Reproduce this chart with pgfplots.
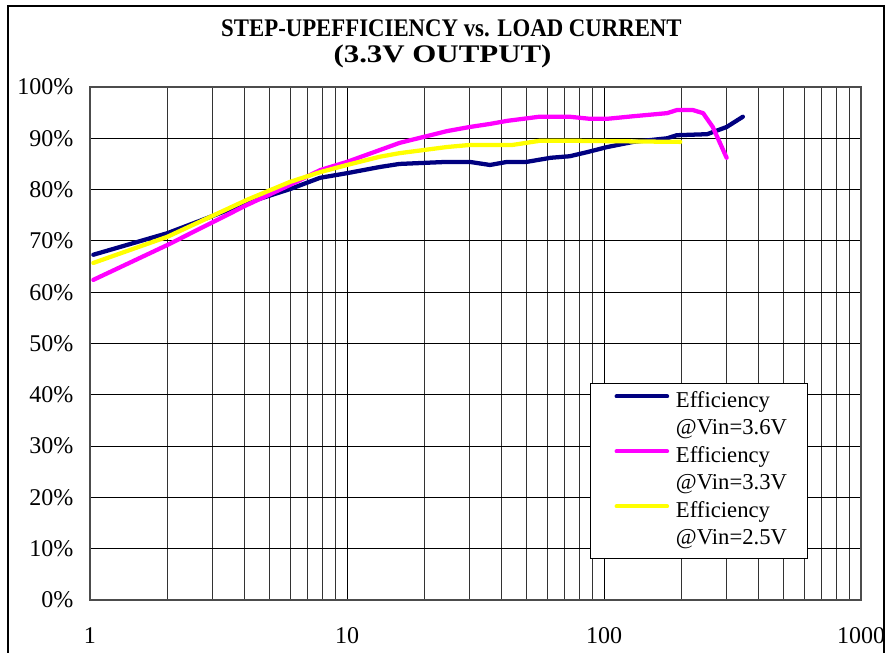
\documentclass[border=0pt]{standalone}
\usepackage{pgfplots}
\pgfplotsset{compat=1.18}
\usepackage{fontspec}
\setmainfont{Liberation Serif}
\usepackage{graphicx}

\definecolor{navyline}{RGB}{0,0,128}
\definecolor{magline}{RGB}{255,0,255}
\definecolor{yelline}{RGB}{255,255,0}

\begin{document}
\begin{tikzpicture}
% page frame: 887x652 px at 0.75pt per px, axis origin at px (90,600)
\path[use as bounding box, clip] (-67.5pt,-39pt) rectangle (597.75pt,450pt);
\draw[black, line width=1.8pt] (-61.5pt,-60pt) rectangle (595.5pt,445.5pt);

\node[font=\bfseries\fontsize{19}{22}\selectfont] at (271.1pt,429pt) {\scalebox{0.9}[1]{STEP-UPEFFICIENCY vs. LOAD CURRENT}};
\node[font=\bfseries\fontsize{19}{22}\selectfont] at (264.4pt,408pt) {\scalebox{1.22}[1]{(3.3V OUTPUT)}};

\begin{axis}[
  at={(0pt,0pt)}, anchor=south west,
  scale only axis, width=578.25pt, height=384.75pt,
  xmode=log, xmin=1, xmax=1000, ymin=0, ymax=100,
  xtick={1,10,100,1000}, xticklabels={1,10,100,1000},
  ytick={0,10,...,100},
  yticklabels={0\%,10\%,20\%,30\%,40\%,50\%,60\%,70\%,80\%,90\%,100\%},
  ticklabel style={font=\fontsize{18}{20}\selectfont},
  yticklabel style={xshift=-9pt},
  xticklabel style={yshift=-17pt},
  xtick style={draw=none},
  ytick style={black, line width=0.6pt},
  tick pos=left, tick align=inside, major tick length=6pt,
  xmajorgrids, xminorgrids, ymajorgrids,
  major grid style={black, line width=0.6pt},
  minor grid style={black!80, line width=0.45pt},
  axis line style={black!70, line width=1.1pt},
  legend cell align=left,
  legend style={at={(0.6485,0.423)}, anchor=north west, draw=black, line width=0.6pt,
    font=\fontsize{17}{20.6}\selectfont,
    nodes={inner sep=0pt, text height=12.5pt, text depth=4.5pt},
    inner xsep=15pt, inner ysep=5.5pt, row sep=3.6pt, column sep=0pt},
  legend image code/.code={\path (0pt,0pt) (46pt,0pt);
    \draw[#1, line width=3pt] (3pt,4.2pt) -- (41pt,4.2pt);},
  every axis plot/.append style={line width=3.2pt, line join=round, line cap=round},
]
\addplot[navyline] coordinates {
(1.03,67.3) (2,71.5) (4.08,77.4) (6,80.1) (7.86,82.3) (10,83.2) (13.4,84.4)
(16,85.0) (24.5,85.4) (30,85.4) (36,84.8) (42,85.4) (50,85.4) (62,86.2)
(73.5,86.5) (86,87.3) (103,88.3) (130,89.3) (176,90.0) (192,90.6) (252,90.8)
(300,92.2) (347,94.2)};
\addlegendentry{Efficiency}
\addlegendimage{legend image code/.code={}}
\addlegendentry{@Vin=3.6V}
\addplot[magline] coordinates {
(1.03,62.4) (2,69.2) (4.08,77.0) (6,80.9) (7.86,83.8) (10,85.4) (13.4,87.7)
(16,89.1) (24.5,91.4) (30,92.2) (36,92.8) (42,93.4) (56,94.2) (73.5,94.2)
(88,93.8) (103,93.8) (130,94.3) (176,94.9) (192,95.5) (222,95.5) (243,94.9)
(265,92.2) (300,86.2)};
\addlegendentry{Efficiency}
\addlegendimage{legend image code/.code={}}
\addlegendentry{@Vin=3.3V}
\addplot[yelline] coordinates {
(1.03,65.7) (2,70.8) (4.08,78.0) (6,81.5) (7.86,83.4) (10,84.8) (13.4,86.4)
(16,87.1) (24.5,88.3) (30,88.7) (44,88.7) (56,89.5) (80,89.5) (198,89.3)};
\addlegendentry{Efficiency}
\addlegendimage{legend image code/.code={}}
\addlegendentry{@Vin=2.5V}
\end{axis}
\end{tikzpicture}
\end{document}
